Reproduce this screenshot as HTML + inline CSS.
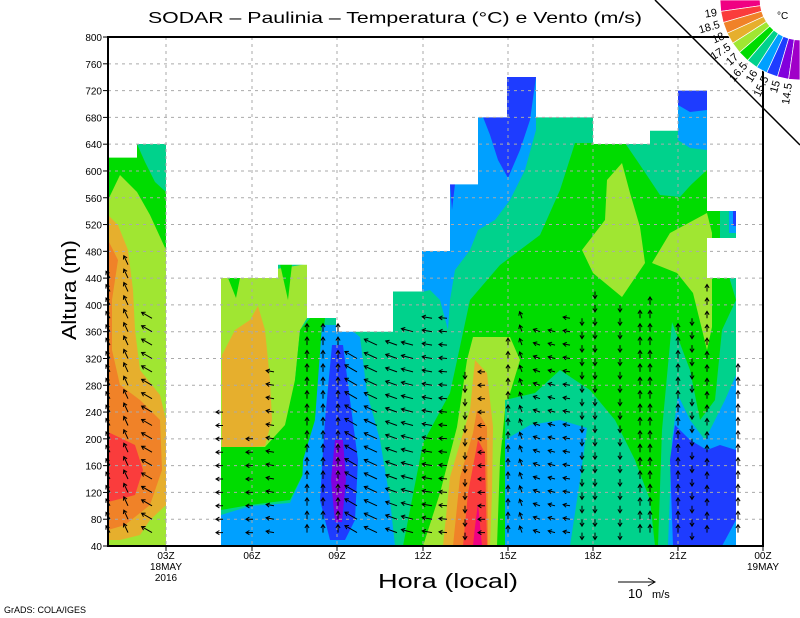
<!DOCTYPE html>
<html><head><meta charset="utf-8"><style>
html,body{margin:0;padding:0;background:#fff;}
svg{display:block;font-family:"Liberation Sans",sans-serif;}
</style></head><body>
<svg id="s" width="800" height="618" viewBox="0 0 800 618" xmlns="http://www.w3.org/2000/svg">
<rect width="800" height="618" fill="#fff"/>
<rect x="108" y="140" width="58" height="406" fill="#00dc00"/>
<polygon fill="#00d28c" points="137,144 166,144 166,192 155,182 145,162"/>
<polygon fill="#a0e632" points="108,200 120,175 137,192 150,215 166,250 166,546 108,546"/>
<polygon fill="#e6af2d" points="108,215 118,225 128,250 133,290 135,330 140,370 160,395 166,420 166,505 150,520 140,535 120,540 108,540"/>
<polygon fill="#f08228" points="108,240 118,260 112,300 112,350 120,385 140,400 160,420 162,470 150,505 125,525 108,530"/>
<polygon fill="#fa3c3c" points="108,432 135,445 143,470 135,495 108,502"/>
<rect x="221" y="70" width="515" height="476" fill="#00d28c"/>
<polygon fill="#a0e632" points="221,278 307,264 307,318 300,330 295,380 290,430 270,450 221,452"/>
<polygon fill="#00dc00" points="228,278 240,278 236,298"/>
<polygon fill="#00dc00" points="280,264 292,264 288,300"/>
<polygon fill="#e6af2d" points="222,355 235,330 250,320 258,306 265,330 270,380 272,420 265,446 240,448 222,448"/>
<polygon fill="#00dc00" points="221,447 265,447 285,425 295,380 300,330 310,318 325,318 320,370 315,420 305,470 290,500 250,505 221,510"/>
<polygon fill="#00a0ff" points="221,546 221,515 250,506 290,503 305,470 312,440 320,546"/>
<polygon fill="#00a0ff" points="322,325 345,325 360,337 367,393 380,440 390,500 395,546 300,546 303,460 315,420"/>
<polygon fill="#1e3cff" points="332,345 343,345 350,400 358,460 355,520 345,540 330,540 320,500 325,420"/>
<polygon fill="#8200dc" points="335,440 343,440 346,480 342,522 335,522 331,480"/>
<polygon fill="#00a0ff" points="422,251 450,251 450,184 478,184 478,117 507,117 507,77 536,77 536,130 525,170 510,200 495,220 478,230 470,250 455,270 450,300 448,330 440,300 430,290 422,292"/>
<polygon fill="#1e3cff" points="483,117 507,117 507,77 536,77 530,120 520,150 508,178 498,160 490,135"/>
<polygon fill="#1e3cff" points="450,184 455,184 452,210"/>
<polygon fill="#00dc00" points="403,546 423,443 450,393 470,300 500,265 540,235 560,190 575,143 625,143 640,165 660,195 680,197 707,167 720,240 730,280 736,300 736,546"/>
<polygon fill="#00d28c" points="678,90 707,90 707,170 680,195 660,190 650,170 640,140 678,130"/>
<polygon fill="#00a0ff" points="678,90 707,90 707,150 690,148 678,140"/>
<polygon fill="#1e3cff" points="678,90 707,90 707,110 690,112 678,105"/>
<rect x="707" y="211" width="29" height="27" fill="#00dc00"/>
<rect x="720" y="211" width="16" height="27" fill="#00d28c"/>
<rect x="729" y="211" width="7" height="22" fill="#00a0ff"/>
<rect x="733" y="211" width="3" height="15" fill="#1e3cff"/>
<polygon fill="#a0e632" points="622,163 630,193 640,227 645,263 622,297 593,273 582,250 605,220 607,180"/>
<polygon fill="#a0e632" points="652,263 670,233 707,213 712,233 712,327 707,350 693,293 677,273"/>
<polygon fill="#a0e632" points="473,337 510,337 520,360 505,410 500,460 497,546 423,546 440,493 457,427 467,360"/>
<polygon fill="#e6af2d" points="475,360 487,373 493,427 492,493 490,546 443,546 450,477 470,410"/>
<polygon fill="#f08228" points="477,410 487,427 488,546 453,546 460,477 473,433"/>
<polygon fill="#fa3c3c" points="478,440 485,453 487,546 463,546 468,493"/>
<polygon fill="#f00082" points="478,503 482,546 473,546 475,527"/>
<polygon fill="#00d28c" points="505,546 505,400 535,393 560,370 590,390 615,420 635,460 650,500 655,546"/>
<polygon fill="#00a0ff" points="505,546 505,440 530,425 560,420 587,428 580,480 570,546"/>
<polygon fill="#00d28c" points="658,546 662,430 672,322 690,370 700,420 715,400 722,330 736,300 736,546"/>
<polygon fill="#00a0ff" points="668,546 672,440 678,395 690,420 705,440 725,400 736,375 736,546"/>
<polygon fill="#1e3cff" points="673,546 670,460 675,425 690,440 707,450 720,445 736,450 736,520 722,546"/>
<path fill="#fff" d="M108,37 L108,157.6 L137,157.6 L137,144 L166,144 L166,546 L221,546 L221,278 L278,278 L278,264.7 L307,264.7 L307,318 L336,318 L336,331.7 L393,331.7 L393,291.5 L422,291.5 L422,251 L450,251 L450,184.4 L478,184.4 L478,117.4 L507,117.4 L507,77 L536,77 L536,117.4 L593,117.4 L593,144 L650,144 L650,130.8 L678,130.8 L678,90.6 L707,90.6 L707,211 L736,211 L736,238 L707,238 L707,278 L736,278 L736,546 L763,546 L763,37 Z"/>
<g id="grid" stroke="#aaa" stroke-width="1" stroke-dasharray="3,4"></g>
<g id="barbs" stroke="#000" stroke-width="1" fill="none"></g>
<rect x="108" y="37" width="655" height="509" fill="none" stroke="#000" stroke-width="2"/>
<g id="ticks" stroke="#000" stroke-width="1"></g>
<g id="ylab" font-size="10" text-anchor="end" fill="#000"></g>
<g font-size="10" text-anchor="middle" fill="#000">
<text x="166" y="559">03Z</text><text x="166" y="570">18MAY</text><text x="166" y="581">2016</text>
<text x="252" y="559">06Z</text><text x="337" y="559">09Z</text><text x="423" y="559">12Z</text>
<text x="508" y="559">15Z</text><text x="593" y="559">18Z</text><text x="678" y="559">21Z</text>
<text x="763" y="559">00Z</text><text x="763" y="570">19MAY</text>
</g>
<text x="148" y="23" font-size="16" textLength="494" lengthAdjust="spacingAndGlyphs">SODAR – Paulinia – Temperatura (°C) e Vento (m/s)</text>
<text x="378" y="588" font-size="20" textLength="140" lengthAdjust="spacingAndGlyphs">Hora (local)</text>
<text transform="translate(76,340) rotate(-90)" font-size="20" textLength="100" lengthAdjust="spacingAndGlyphs">Altura (m)</text>
<line x1="618" y1="582" x2="655" y2="582" stroke="#000"/>
<path d="M648,578 L655,582 L648,586" fill="none" stroke="#000"/>
<text x="628" y="598" font-size="13">10</text><text x="652" y="598" font-size="11">m/s</text>
<text x="4" y="613" font-size="9">GrADS: COLA/IGES</text>
<line x1="655" y1="0" x2="800" y2="145" stroke="#000" stroke-width="1.5"/>
<g id="leg"></g>
<text x="777" y="19" font-size="10">°C</text>
</svg>
<script>
var NS="http://www.w3.org/2000/svg";
function el(p,t,a){var e=document.createElementNS(NS,t);for(var k in a)e.setAttribute(k,a[k]);p.appendChild(e);return e;}
function Y(m){return 546-(m-40)*0.6697;}
var g=document.getElementById('grid'),tk=document.getElementById('ticks'),yl=document.getElementById('ylab');
for(var m=80;m<800;m+=40){el(g,'line',{x1:108,x2:763,y1:Y(m),y2:Y(m)});}
var xs=[166,252,337,423,508,593,678];
xs.forEach(function(x){el(g,'line',{x1:x,x2:x,y1:37,y2:546});el(tk,'line',{x1:x,x2:x,y1:546,y2:551});});
el(tk,'line',{x1:763,x2:763,y1:546,y2:551});
for(var m=40;m<=800;m+=40){el(tk,'line',{x1:103,x2:108,y1:Y(m),y2:Y(m)});var t=el(yl,'text',{x:102,y:Y(m)+4});t.textContent=m;}
// [x, top m, angle deg, length]
var cols=[[110,440,120,8],[128,460,115,10],[152,380,150,12],[223,240,180,7],[253,200,180,7],[274,300,170,8],[307,360,90,8],[323,360,90,8],[338,360,90,8],[357,320,150,14],[377,340,155,14],[397,340,160,12],[413,360,165,12],[432,380,170,10],[447,380,175,8],[465,300,270,7],[485,300,180,7],[508,340,90,7],[522,380,110,7],[540,360,160,7],[555,360,165,7],[570,380,170,7],[582,380,270,7],[595,420,270,7],[620,400,270,7],[640,380,90,8],[650,400,90,8],[678,360,90,8],[692,380,270,7],[707,420,90,7],[738,300,90,8]];
var b=document.getElementById('barbs');
cols.forEach(function(c){for(var m=60;m<=c[1];m+=20){var x=c[0],y=Y(m),a=c[2]*Math.PI/180,L=c[3];
var x2=x+Math.cos(a)*L,y2=y-Math.sin(a)*L;
var h1=a+2.6,h2=a-2.6;
el(b,'path',{d:'M'+x.toFixed(1)+','+y.toFixed(1)+'L'+x2.toFixed(1)+','+y2.toFixed(1)+'M'+(x2+Math.cos(h1)*4).toFixed(1)+','+(y2-Math.sin(h1)*4).toFixed(1)+'L'+x2.toFixed(1)+','+y2.toFixed(1)+'L'+(x2+Math.cos(h2)*4).toFixed(1)+','+(y2-Math.sin(h2)*4).toFixed(1)});}});
var cl=["#f00082","#fa3c3c","#f08228","#e6af2d","#a0e632","#00dc00","#00d28c","#00a0ff","#1e3cff","#8200dc","#a000c8"];
var lb=["19","18.5","18","17.5","17","16.5","16","15.5","15","14.5"];
var lg=document.getElementById('leg');var cx=800,cy=0,r1=40,r2=80,st=90/11;
for(var i=0;i<11;i++){var a1=(180-i*st)*Math.PI/180,a2=(180-(i+1)*st)*Math.PI/180;
var p=[[cx+r2*Math.cos(a1),cy+r2*Math.sin(a1)],[cx+r2*Math.cos(a2),cy+r2*Math.sin(a2)],[cx+r1*Math.cos(a2),cy+r1*Math.sin(a2)],[cx+r1*Math.cos(a1),cy+r1*Math.sin(a1)]];
el(lg,'polygon',{points:p.map(function(q){return q.join(',')}).join(' '),fill:cl[i],stroke:'#fff','stroke-width':0.7});}
for(var k=1;k<=10;k++){var ph=180-k*st,a=ph*Math.PI/180;var x=cx+84*Math.cos(a),y=cy+84*Math.sin(a);
var t=el(lg,'text',{x:0,y:0,'font-size':11,'text-anchor':'end',transform:'translate('+x+','+y+') rotate('+(ph-180)+') translate(0,4)'});t.textContent=lb[k-1];}
</script>
</body></html>
